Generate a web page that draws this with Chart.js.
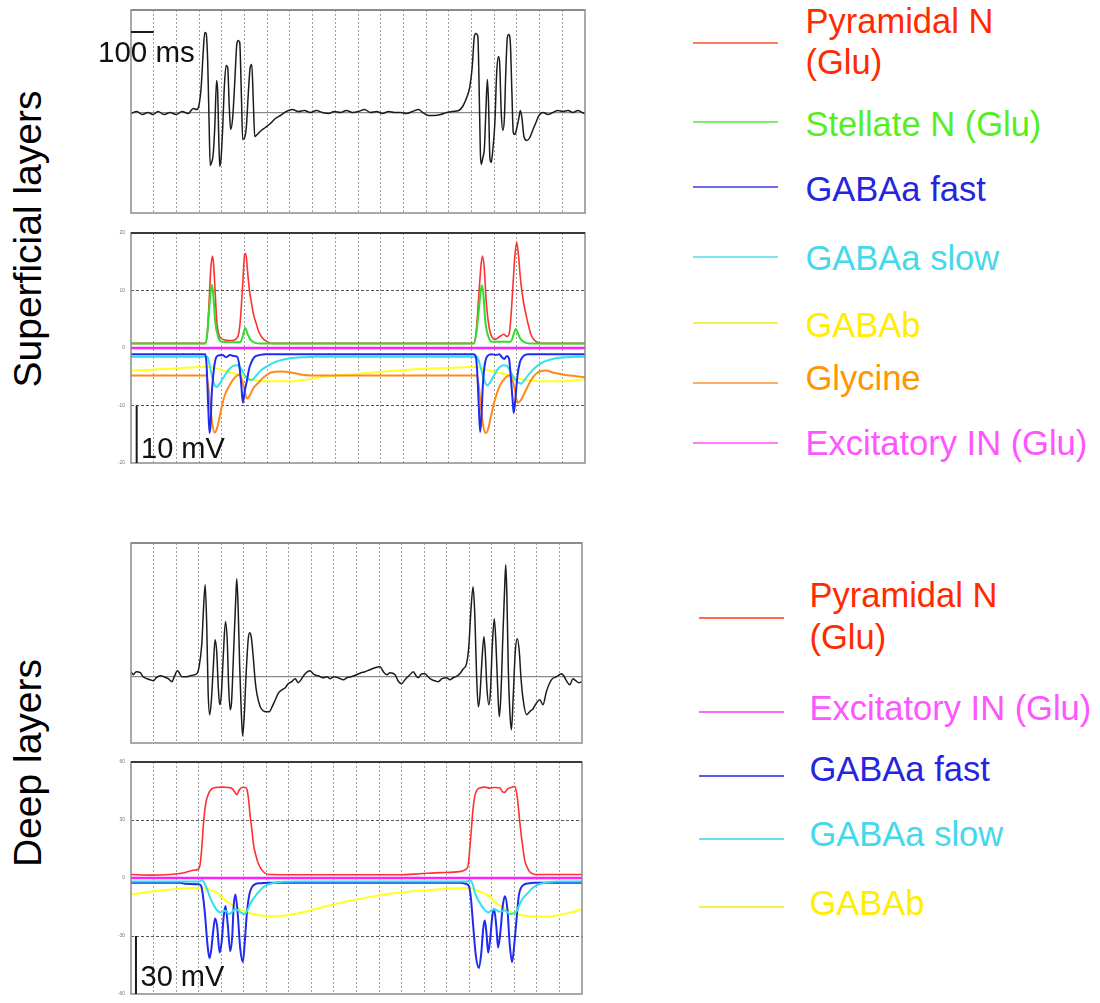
<!DOCTYPE html>
<html>
<head>
<meta charset="utf-8">
<script src="https://cdn.jsdelivr.net/npm/chart.js@4.4.0/dist/chart.umd.min.js"></script>
<style>
  html, body { margin: 0; padding: 0; background: #fff; }
  body { width: 1100px; height: 1003px; position: relative; overflow: hidden; font-family: "Liberation Sans", Arial, sans-serif; }
  canvas { position: absolute; }
  .txt { position: absolute; white-space: nowrap; line-height: 1; }
  .key { position: absolute; }
  .side { position: absolute; white-space: nowrap; line-height: 1; color: #000; transform: translate(-50%, -50%) rotate(-90deg); }
</style>
</head>
<body>
<script>
// ---- data (time in ms, values in mV / arbitrary LFP units) ----
const timeTicks = [0,100,200,300,400,500,600,700,800,900,1000,1100,1200,1300,1400,1500,1600,1700,1800,1900,2000];
const supTicks = [-20,-10,0,10,20];
const deepTicks = [-60,-30,0,30,60];
const lfpTicks = [0];

// superficial layers, field potential
const supLfpT = [0,26,49,75,97,119,146,172,199,225,252,274,291,300,309,318,325,331,338,344,349,355,362,369,377,382,386,391,397,404,411,419,426,433,439,448,457,466,472,479,486,492,499,508,517,525,532,539,545,556,574,592,614,636,658,684,711,737,764,790,817,843,870,896,923,949,976,1002,1029,1055,1082,1108,1135,1161,1188,1214,1241,1267,1285,1311,1338,1364,1391,1417,1444,1461,1479,1492,1503,1512,1519,1528,1534,1539,1543,1550,1557,1563,1570,1575,1581,1587,1594,1603,1611,1619,1624,1631,1638,1645,1651,1658,1664,1671,1678,1684,1691,1700,1709,1715,1722,1731,1744,1757,1771,1784,1797,1815,1837,1859,1881,1903,1925,1947,1969,1987,2000];
const supLfpV = [-0.1,0.1,-0.2,0,-0.2,0.1,-0.2,0,-0.2,0.1,-0.1,0.4,0.3,0.8,2.5,6.0,8.0,7.9,5.0,-1.0,-5.3,-5.0,-4.2,-1.5,3.2,2.0,-2.0,-5.4,-4.5,-1.5,2.5,4.7,4.5,0.5,-1.7,-0.5,3.0,6.8,7.2,7.0,2.0,-2.7,-2.6,-1.5,2.0,4.5,4.8,1.0,-2.4,-2.2,-1.8,-1.5,-1.1,-0.6,-0.3,0.1,0.3,0.1,0.2,0,0.2,0,-0.1,0.1,0,0.2,0,0.1,0.3,0,0.1,-0.1,0.1,0,0,-0.1,0.1,0.3,0,-0.3,-0.3,-0.2,0,0.1,0.2,0.6,1.5,2.5,4.5,7.5,7.9,7.6,2.0,-4.0,-5.2,-4.5,-3.5,0,3.3,1.0,-4.5,-5.0,-3.7,-1.0,4.0,5.6,5.0,0,-1.8,-0.5,4.0,7.5,7.8,7.0,2.0,-2.0,-2.2,-1.5,-0.5,0.2,-0.5,-2.4,-2.8,-2.5,-1.7,-1.0,-0.3,0,-0.2,0,0.2,0.1,0.2,0,0.2,0,-0.1];

// superficial layers, synaptic components
const supPyrT = [0,327,336,344,351,358,364,371,378,386,393,415,446,464,475,483,492,501,506,512,521,530,540,552,562,578,596,623,1510,1521,1532,1541,1548,1556,1565,1578,1589,1603,1625,1642,1656,1666,1673,1682,1691,1699,1706,1717,1729,1740,1753,1762,1779,1797,1806,2000];
const supPyrV = [0.8,0.8,2.5,8,13.5,16.0,14.5,9.5,4.6,2.5,1.8,1.4,1.3,1.6,2.6,5.5,11.0,16.3,16.4,14.0,10.3,8.0,5.8,4.2,2.9,1.8,1.2,0.8,0.8,3,9,14,16.0,14,8,3.5,2.0,1.5,2.0,2.4,2.0,2.5,5.0,10.5,16,18.4,16.5,11.5,8.0,5.8,3.6,2.3,1.3,0.9,0.8,0.8];
const supStelT = [0,327,336,344,356,362,371,385,400,481,492,503,514,525,547,570,1510,1521,1532,1545,1552,1561,1576,1589,1673,1686,1695,1706,1717,1740,1762,2000];
const supStelV = [0.8,0.8,2.5,6.5,11.0,9.5,4.6,1.8,1.1,1.0,2.0,3.5,2.4,1.5,0.9,0.8,0.8,2.5,6.5,10.9,9.5,4.6,1.8,1.1,1.1,2.4,3.3,2.4,1.5,0.9,0.8,0.8];
const supFastT = [0,327,333,340,346,351,355,363,371,380,402,419,437,450,467,477,486,493,501,511,521,530,543,570,592,1510,1519,1525,1532,1538,1543,1550,1558,1570,1589,1607,1622,1634,1644,1656,1665,1673,1682,1686,1693,1702,1713,1726,1748,2000];
const supFastV = [-1.1,-1.1,-3,-10,-14.8,-13,-8.5,-4.5,-2.2,-1.4,-1.2,-1.6,-1.2,-1.4,-1.5,-3,-6.5,-9.5,-7.5,-5.6,-3.5,-2.5,-1.6,-1.2,-1.1,-1.1,-1.5,-4,-10,-14.6,-12.5,-6.5,-3,-1.4,-1.1,-1.2,-1.1,-1.6,-1.9,-1.4,-1.8,-5,-9.5,-11.3,-9,-5,-2.5,-1.5,-1.1,-1.1];
const supSlowT = [0,336,344,353,364,377,389,408,428,450,468,483,499,514,530,543,558,578,603,627,653,684,724,768,812,1523,1532,1543,1554,1570,1585,1603,1622,1642,1656,1673,1695,1717,1735,1754,1784,1813,1841,1871,1916,1960,2000];
const supSlowV = [-1.5,-1.5,-2.5,-4.3,-6.0,-6.8,-6.3,-5.1,-3.9,-3.1,-3.0,-3.5,-4.6,-5.3,-5.6,-5.2,-4.5,-3.7,-3.1,-2.6,-2.2,-1.9,-1.7,-1.6,-1.5,-1.5,-2.2,-3.8,-5.4,-6.5,-5.8,-4.5,-3.4,-3.0,-3.1,-4.2,-5.6,-6.2,-5.5,-4.5,-3.3,-2.5,-2.1,-1.8,-1.6,-1.5,-1.5];
const supGabaBT = [0,84,172,260,334,371,408,442,481,503,525,561,599,702,773,849,923,996,1068,1143,1214,1291,1364,1438,1511,1545,1585,1629,1673,1700,1732,1770,1806,1909,1960,2000];
const supGabaBV = [-3.9,-3.8,-3.6,-3.4,-3.25,-3.5,-3.9,-4.3,-4.6,-5.0,-5.4,-5.7,-5.8,-5.8,-5.5,-5.0,-4.75,-4.5,-4.25,-4.0,-3.8,-3.6,-3.5,-3.4,-3.25,-3.5,-4.0,-4.4,-4.8,-5.2,-5.5,-5.7,-5.8,-5.8,-5.6,-5.4];
const supGlyT = [0,331,340,349,358,368,377,389,402,415,430,450,474,486,497,511,523,539,562,587,621,658,710,746,798,1523,1532,1541,1550,1563,1574,1585,1603,1622,1642,1666,1678,1691,1703,1715,1740,1762,1784,1806,1828,1863,1902,1938,2000];
const supGlyV = [-4.8,-4.8,-6.5,-10,-13.2,-14.7,-14.2,-12.3,-9.8,-8.0,-6.8,-5.5,-4.7,-5.2,-6.8,-8.8,-8.3,-7.0,-6.0,-5.0,-4.2,-4.1,-4.3,-4.6,-4.8,-4.8,-6.5,-10,-13.2,-14.8,-14.0,-12.0,-9.0,-6.8,-5.5,-4.8,-5.2,-7.3,-9.5,-9.2,-7.3,-5.6,-4.5,-4.0,-3.9,-4.3,-4.6,-4.8,-5.1];
const supExcT = [0,2000];
const supExcV = [0,0];

// deep layers, field potential
const deepLfpT = [0,10,23,41,54,71,85,100,112,130,147,165,182,192,206,226,245,263,292,302,314,322,329,336,342,349,356,365,373,380,387,393,400,409,419,427,433,440,446,455,464,469,475,482,489,495,502,511,520,526,533,542,551,559,573,586,599,613,626,640,655,670,684,697,713,728,741,754,772,793,812,830,853,869,883,900,918,942,958,976,1001,1020,1038,1060,1082,1104,1119,1135,1148,1171,1184,1200,1215,1233,1252,1264,1274,1290,1303,1317,1333,1348,1362,1379,1400,1414,1429,1441,1458,1474,1488,1498,1507,1517,1525,1532,1540,1547,1556,1565,1571,1578,1587,1594,1602,1611,1618,1625,1633,1640,1649,1658,1662,1667,1673,1680,1687,1695,1704,1713,1722,1729,1739,1754,1768,1783,1799,1813,1827,1842,1865,1887,1909,1919,1931,1946,1960,1972,1986,2000];
const deepLfpV = [0.5,0.2,0.5,0.4,0.0,-0.2,-0.3,-0.4,-0.1,0.1,0.0,-0.2,-0.5,0.0,0.6,0.0,0.0,0.1,0.3,1.0,3.3,7.0,9.2,5.0,-1.5,-3.8,-2.5,1.0,3.7,2.5,-1.0,-2.8,-2.0,2.0,5.5,3.5,-1.0,-3.3,-2.5,2.5,7.5,9.8,7.0,1.0,-3.5,-5.9,-4.0,0.5,3.8,4.4,4.0,2.0,-0.5,-1.8,-3.0,-3.4,-3.5,-3.5,-3.0,-2.3,-1.6,-1.3,-1.1,-0.7,-0.5,-0.2,-0.6,-0.3,0.3,0.6,0.2,0.1,-0.1,0.0,-0.2,0.0,-0.1,-0.3,-0.1,0.0,0.2,0.4,0.5,0.7,0.9,1.0,0.5,0.2,0.4,0.2,-0.4,-0.7,-0.3,0.1,0.5,0.1,-0.1,0.3,0.3,0.0,-0.3,-0.4,-0.5,-0.2,-0.1,-0.3,-0.1,0.0,0.3,0.8,1.3,3.0,6.5,9.0,6.0,0.5,-3.0,-2.0,1.5,4.0,2.5,-1.0,-2.8,-1.5,3.0,5.8,3.5,-0.5,-4.0,-2.0,4.0,9.5,11.2,8.0,1.0,-3.5,-5.3,-2.0,2.5,3.8,2.5,0.0,-2.3,-3.8,-3.5,-3.2,-2.6,-2.3,-2.8,-1.5,-0.3,0.0,0.3,0.1,-0.4,-0.8,-0.2,-0.4,-0.6,-0.5];

// deep layers, synaptic components
const deepPyrT = [0,85,174,232,276,299,307,314,322,332,342,351,373,404,432,449,460,469,480,492,508,515,522,528,536,543,553,565,587,609,750,1193,1281,1370,1458,1485,1495,1503,1510,1517,1525,1534,1547,1569,1591,1613,1636,1649,1658,1669,1684,1702,1710,1717,1724,1732,1739,1746,1757,1768,1791,2000];
const deepPyrV = [1.8,1.5,1.8,2.6,4.0,4.5,7.4,15.8,29,39,43,45.3,46.8,47,46.8,46.2,44.5,43.1,45.5,46.8,46.8,45.5,40,32.5,25,17.5,12,7.4,3.2,1.8,1.7,1.7,2.2,2.8,3.3,4.5,6.5,16,26,36,42.6,45.5,46.5,47,46.5,46.8,46.5,44.5,44.3,46,46.8,47.3,44,37.6,29,20.8,14.5,9.1,5.5,3.2,1.8,1.8];
const deepFastT = [0,218,240,298,311,320,329,338,348,356,365,373,382,393,402,411,419,429,440,449,455,463,473,484,496,504,514,524,535,551,573,608,1458,1485,1498,1507,1517,1529,1543,1554,1562,1569,1576,1584,1594,1602,1610,1620,1628,1638,1649,1658,1669,1680,1690,1700,1710,1720,1729,1742,1760,1791,2000];
const deepFastV = [-2.5,-2.5,-3.0,-3.2,-4,-10,-20,-33,-41.5,-37,-27,-21,-25,-38.5,-33,-20,-14.5,-24,-37.8,-30,-15,-8.5,-18,-36,-43.5,-34,-18,-9,-5,-3.2,-2.7,-2.5,-2.5,-3.0,-4,-10,-24,-40,-46.5,-38,-26,-22,-28,-38.6,-30,-20,-16,-25,-36,-28,-14,-9.4,-16,-35,-43.6,-34,-21,-9,-5.2,-3.5,-2.8,-2.5,-2.5];
const deepSlowT = [0,302,316,325,338,351,373,396,418,437,449,462,475,489,506,517,528,542,558,573,587,608,632,676,728,1490,1503,1516,1525,1540,1555,1569,1584,1600,1613,1636,1658,1680,1702,1713,1724,1738,1754,1773,1791,1817,1842,1866,1887,2000];
const deepSlowV = [-1.8,-1.8,-1.0,-2.5,-6,-10.2,-15.3,-17.8,-17.0,-18.6,-17.5,-16.1,-16.8,-18.0,-18.6,-16.5,-13.6,-10.8,-8.4,-6.3,-4.7,-3.4,-2.6,-2.0,-1.8,-1.8,-1.2,-3.5,-7.7,-11.5,-14.4,-16.5,-17.8,-16.6,-16.1,-17.5,-16.8,-18.6,-18.2,-16.5,-13.5,-10.5,-8.5,-6.0,-4.3,-3.0,-2.3,-2.0,-1.8,-1.8];
const deepGabaBT = [0,63,115,174,240,322,351,381,418,462,506,551,595,652,728,809,853,923,1001,1073,1148,1222,1296,1370,1444,1503,1555,1591,1613,1650,1687,1724,1768,1848,1919,1964,2000];
const deepGabaBV = [-8.4,-7.5,-6.7,-6.0,-5.3,-5.2,-6.3,-7.5,-11.5,-14.8,-17.3,-18.9,-19.7,-19.8,-18.6,-16.3,-15.0,-13.0,-11.1,-9.5,-8.1,-7.2,-6.4,-5.8,-5.3,-5.2,-7.5,-9.5,-12.5,-15.0,-17.5,-19.0,-19.8,-20.0,-18.6,-17.5,-16.1];
const deepExcT = [0,2000];
const deepExcV = [0,0];

// legend entries
const supNames = [['Pyramidal N', '(Glu)'], ['Stellate N (Glu)'], ['GABAa fast'], ['GABAa slow'], ['GABAb'], ['Glycine'], ['Excitatory IN (Glu)']];
const supTextColors = ['#ff2a00', '#55ee22', '#2525e0', '#44d8ea', '#ffee00', '#ff9500', '#ff55ff'];
const supKeyColors = ['#ff7a5e', '#7aee6a', '#6a6aee', '#7ae4f0', '#f4f050', '#ffae6a', '#ff7aff'];
const deepNames = [['Pyramidal N', '(Glu)'], ['Excitatory IN (Glu)'], ['GABAa fast'], ['GABAa slow'], ['GABAb']];
const deepTextColors = ['#ff2a00', '#ff55ff', '#2525e0', '#44d8ea', '#ffee00'];
const deepKeyColors = ['#ff6a50', '#ff66ff', '#5a5aee', '#66e0ee', '#f2f040'];

// ---- colours of the traces ----
const RED = '#ff3030', GREEN = '#2ede2e', BLUE = '#1f2cf0', CYAN = '#30e0f0',
      YELLOW = '#ffff20', ORANGE = '#ff8a1a', MAGENTA = '#ff20ff', BLACK = '#1c1c1c';

const PAD = 6, AXIS_W = 31;

function zip(t, v) {
  if (t.length !== v.length) console.warn('length mismatch', t.length, v.length);
  const n = Math.min(t.length, v.length);
  const out = [];
  for (let i = 0; i < n; i++) out.push({ x: t[i], y: v[i] });
  return out;
}

function trace(label, t, v, color, width, order) {
  return {
    label, data: zip(t, v), borderColor: color, borderWidth: width,
    pointRadius: 0, fill: false, cubicInterpolationMode: 'monotone', order
  };
}

const framePlugin = {
  id: 'frame',
  afterDatasetsDraw(chart, args, opts) {
    const { ctx, chartArea: a, scales } = chart;
    ctx.save();
    ctx.strokeStyle = '#8c8c8c';
    ctx.lineWidth = 1.5;
    ctx.strokeRect(a.left, a.top, a.right - a.left, a.bottom - a.top);
    ctx.strokeStyle = opts.topColor || '#8c8c8c';
    ctx.lineWidth = 2;
    ctx.beginPath();
    ctx.moveTo(a.left, a.top);
    ctx.lineTo(a.right, a.top);
    ctx.stroke();
    if (opts.bar) {
      const b = opts.bar;
      ctx.strokeStyle = '#1a1a1a';
      ctx.lineWidth = 2;
      ctx.beginPath();
      ctx.moveTo(scales.x.getPixelForValue(b.x0), scales.y.getPixelForValue(b.y0));
      ctx.lineTo(scales.x.getPixelForValue(b.x1), scales.y.getPixelForValue(b.y1));
      ctx.stroke();
    }
    ctx.restore();
  }
};

function makePanel(box, yMin, yMax, yTicks, showLabels, datasets, frameOpts) {
  const c = document.createElement('canvas');
  const w = Math.round(AXIS_W + (box.right - box.left) + PAD);
  const h = Math.round(box.bottom - box.top + 2 * PAD);
  c.width = w; c.height = h;
  c.style.left = (box.left - AXIS_W) + 'px';
  c.style.top = (box.top - PAD) + 'px';
  c.style.width = w + 'px'; c.style.height = h + 'px';
  document.body.appendChild(c);

  return new Chart(c, {
    type: 'line',
    data: { datasets },
    options: {
      responsive: false,
      animation: false,
      devicePixelRatio: 1,
      layout: { padding: { top: PAD, bottom: PAD, left: 0, right: PAD } },
      plugins: {
        legend: { display: false },
        tooltip: { enabled: false },
        frame: frameOpts
      },
      scales: {
        x: {
          type: 'linear', min: 0, max: 2000,
          afterBuildTicks: s => { s.ticks = timeTicks.map(v => ({ value: v })); },
          afterFit: s => { s.height = 0; },
          ticks: { display: false },
          grid: {
            drawTicks: false, lineWidth: 1,
            color: ctx => (ctx.tick && (ctx.tick.value === 0 || ctx.tick.value === 2000)) ? 'rgba(0,0,0,0)' : '#a0a0a0'
          },
          border: { display: false, dash: [2, 2] }
        },
        y: {
          type: 'linear', min: yMin, max: yMax,
          afterBuildTicks: s => { s.ticks = yTicks.map(v => ({ value: v })); },
          afterFit: s => { s.width = AXIS_W; },
          ticks: {
            display: showLabels, color: '#777', padding: 6,
            font: { size: 5, family: 'Liberation Sans' },
            callback: v => String(v)
          },
          grid: {
            drawTicks: false, lineWidth: showLabels ? 1 : 1.2,
            color: ctx => {
              if (!ctx.tick) return 'rgba(0,0,0,0)';
              const v = ctx.tick.value;
              if (v === yTicks[0] || v === yTicks[yTicks.length - 1]) return showLabels ? 'rgba(0,0,0,0)' : '#8a8a8a';
              return showLabels ? '#555' : '#8a8a8a';
            }
          },
          border: { display: false, dash: showLabels ? [3, 2] : [] }
        }
      }
    },
    plugins: [framePlugin]
  });
}

// ---- panels ----
makePanel({ left: 131, right: 584.5, top: 10, bottom: 213 }, -10.05, 10.25, lfpTicks, false,
  [trace('Superficial LFP', supLfpT, supLfpV, BLACK, 1.5, 0)],
  { bar: { x0: 0, x1: 100, y0: 8.05, y1: 8.05 } });

makePanel({ left: 131, right: 584.5, top: 230, bottom: 466 }, -20, 20, supTicks, true, [
  trace('Excitatory IN (Glu)', supExcT, supExcV, MAGENTA, 2.5, 0),
  trace('Stellate N (Glu)', supStelT, supStelV, GREEN, 2, 1),
  trace('Pyramidal N (Glu)', supPyrT, supPyrV, RED, 1.6, 2),
  trace('GABAa fast', supFastT, supFastV, BLUE, 2, 3),
  trace('GABAa slow', supSlowT, supSlowV, CYAN, 2, 4),
  trace('Glycine', supGlyT, supGlyV, ORANGE, 2, 5),
  trace('GABAb', supGabaBT, supGabaBV, YELLOW, 2, 6)
], { topColor: '#3a3a3a', bar: { x0: 25, x1: 25, y0: -10, y1: -20 } });

makePanel({ left: 131, right: 582.3, top: 543, bottom: 743 }, -6.63, 13.37, lfpTicks, false,
  [trace('Deep LFP', deepLfpT, deepLfpV, BLACK, 1.5, 0)],
  {});

makePanel({ left: 131, right: 582.3, top: 759, bottom: 997 }, -60, 60, deepTicks, true, [
  trace('Excitatory IN (Glu)', deepExcT, deepExcV, MAGENTA, 2.5, 0),
  trace('Pyramidal N (Glu)', deepPyrT, deepPyrV, RED, 1.6, 1),
  trace('GABAa slow', deepSlowT, deepSlowV, CYAN, 2, 2),
  trace('GABAa fast', deepFastT, deepFastV, BLUE, 2, 3),
  trace('GABAb', deepGabaBT, deepGabaBV, YELLOW, 2, 4)
], { topColor: '#3a3a3a', bar: { x0: 22, x1: 22, y0: -30, y1: -60 } });

// ---- text ----
function addText(str, x, baseline, size, color) {
  const d = document.createElement('div');
  d.className = 'txt';
  d.textContent = str;
  d.style.left = x + 'px';
  d.style.top = (baseline - 0.8465 * size) + 'px';
  d.style.fontSize = size + 'px';
  d.style.color = color;
  document.body.appendChild(d);
}
function addKey(x0, x1, y, color, thick) {
  const d = document.createElement('div');
  d.className = 'key';
  d.style.left = x0 + 'px';
  d.style.top = Math.round(y - thick / 2) + 'px';
  d.style.width = (x1 - x0) + 'px';
  d.style.height = thick + 'px';
  d.style.background = color;
  document.body.appendChild(d);
}
function addSide(str, cx, cy, size) {
  const d = document.createElement('div');
  d.className = 'side';
  d.textContent = str;
  d.style.left = cx + 'px';
  d.style.top = cy + 'px';
  d.style.fontSize = size + 'px';
  document.body.appendChild(d);
}

addText('100 ms', 98, 62, 29.5, '#111');
addText('10 mV', 141, 459, 29, '#111');
addText('30 mV', 140.5, 987, 29, '#111');

addSide('Superficial layers', 27, 239, 39);
addSide('Deep layers', 27, 763, 39);

const LEG = 34.5;
const supKeyY = [42.7, 122.3, 187.3, 256.7, 323.3, 383.3, 442.7];
const supBase = [[33.5, 74.5], [136], [201], [270.5], [337.5], [390.5], [455]];
supNames.forEach((lines, i) => {
  addKey(693, 778, supKeyY[i], supKeyColors[i], 2);
  lines.forEach((s, j) => addText(s, 805.5, supBase[i][j], LEG, supTextColors[i]));
});

const deepKeyY = [618.3, 711.7, 776, 839.3, 906.7];
const deepBase = [[607, 649], [720], [781], [846], [915]];
deepNames.forEach((lines, i) => {
  addKey(699, 784, deepKeyY[i], deepKeyColors[i], 2);
  lines.forEach((s, j) => addText(s, 809.5, deepBase[i][j], LEG, deepTextColors[i]));
});
</script>
</body>
</html>
